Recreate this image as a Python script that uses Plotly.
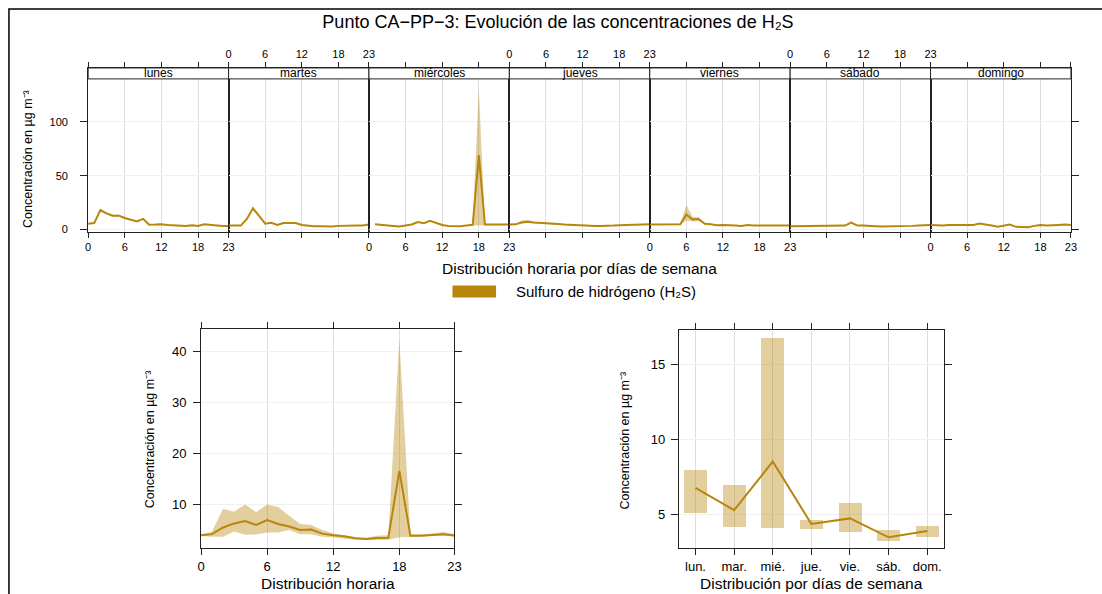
import plotly.graph_objects as go

W, H = 1102, 594
FONT = "Liberation Sans"
LINE = "#B8860B"
BAND = "rgba(184,134,11,0.40)"
FRAME = "#222222"

# ---------------- data ----------------
dias = ["lunes", "martes", "miércoles", "jueves", "viernes", "sábado", "domingo"]
horas = list(range(24))
hora_ticks = [0, 6, 12, 18, 23]

media_lun = [5.3, 6.0, 18.0, 15.0, 12.9, 12.9, 10.7, 8.8, 7.5, 9.9, 4.5, 4.6, 4.9, 4.3, 4.0, 3.4, 3.4, 4.0, 3.4, 4.9, 4.3, 3.4, 3.4, 3.4]
inf_lun = [4.9, 5.5, 16.4, 13.9, 12.0, 12.0, 10.0, 8.2, 7.0, 9.1, 4.2, 4.3, 4.5, 4.0, 3.7, 3.1, 3.1, 3.7, 3.1, 4.5, 4.0, 3.1, 3.1, 3.1]
sup_lun = [5.8, 6.6, 19.5, 16.0, 13.8, 13.8, 11.4, 9.4, 8.0, 10.7, 4.9, 4.9, 5.3, 4.6, 4.3, 3.7, 3.7, 4.3, 3.7, 5.3, 4.6, 3.7, 3.7, 3.7]

media_mar = [3.7, 4.0, 3.7, 9.8, 19.7, 12.6, 5.5, 6.3, 4.3, 6.0, 6.2, 6.0, 4.3, 3.4, 3.1, 3.1, 2.8, 2.8, 3.4, 3.7, 3.7, 3.7, 3.7, 4.6]
inf_mar = [3.4, 3.7, 3.4, 9.0, 18.4, 11.8, 5.1, 5.9, 4.0, 5.6, 5.8, 5.6, 4.0, 3.1, 2.8, 2.8, 2.5, 2.5, 3.1, 3.4, 3.4, 3.4, 3.4, 4.2]
sup_mar = [4.0, 4.3, 4.0, 10.6, 21.0, 13.4, 5.9, 6.7, 4.6, 6.4, 6.6, 6.4, 4.6, 3.7, 3.4, 3.4, 3.1, 3.1, 3.7, 4.0, 4.0, 4.0, 4.0, 5.0]

media_mie = [None, 4.8, 4.5, 4.0, 3.3, 2.9, 3.6, 4.7, 7.0, 5.8, 8.2, 6.1, 4.2, 3.2, 3.0, 3.0, 3.8, 4.4, 69.0, 4.6, 4.6, 4.6, 4.6, 4.6]
inf_mie = [None, 4.4, 4.1, 3.6, 2.9, 2.5, 3.2, 4.3, 6.5, 5.3, 7.6, 5.6, 3.8, 2.9, 2.7, 2.7, 3.4, 3.7, 3.8, 4.2, 4.2, 4.2, 4.2, 4.2]
sup_mie = [None, 5.2, 4.9, 4.4, 3.7, 3.3, 4.0, 5.1, 7.6, 6.3, 8.9, 6.6, 4.6, 3.5, 3.3, 3.3, 4.2, 5.2, 131.0, 5.0, 5.0, 5.0, 5.0, 5.0]

media_jue = [4.7, 4.8, 6.6, 7.3, 6.5, 6.3, 6.0, 5.6, 5.2, 4.6, 4.3, 3.8, 4.2, 3.8, 3.4, 3.4, 3.2, 3.7, 4.0, 4.3, 4.5, 4.8, 4.8, 4.8]
inf_jue = [4.3, 4.4, 5.6, 6.1, 5.9, 5.9, 5.6, 5.2, 4.8, 4.2, 3.9, 3.5, 3.8, 3.5, 3.1, 3.1, 2.9, 3.4, 3.7, 4.0, 4.1, 4.4, 4.4, 4.4]
sup_jue = [5.1, 5.2, 8.4, 9.2, 7.3, 6.8, 6.4, 6.0, 5.6, 5.0, 4.7, 4.1, 4.6, 4.1, 3.7, 3.7, 3.5, 4.0, 4.3, 4.6, 4.9, 5.2, 5.2, 5.2]

media_vie = [4.6, 4.6, 4.6, 4.8, 4.8, 4.9, 14.0, 9.4, 9.8, 5.4, 4.9, 4.0, 4.3, 3.7, 3.7, 3.4, 4.2, 3.7, 3.7, 3.7, 3.7, 3.7, 3.7, 3.7]
inf_vie = [4.2, 4.2, 4.2, 4.4, 4.4, 4.4, 8.5, 7.5, 8.0, 4.9, 4.5, 3.7, 4.0, 3.4, 3.4, 3.1, 3.9, 3.4, 3.4, 3.4, 3.4, 3.4, 3.4, 3.4]
sup_vie = [5.0, 5.0, 5.0, 5.2, 5.2, 5.6, 22.8, 11.8, 11.5, 6.2, 5.3, 4.3, 4.6, 4.0, 4.0, 3.7, 4.5, 4.0, 4.0, 4.0, 4.0, 4.0, 4.0, 4.0]

media_sab = [3.1, 3.1, 3.1, 3.4, 3.4, 3.4, 3.4, 3.4, 3.4, 3.7, 6.5, 3.7, 3.7, 3.1, 3.1, 2.8, 2.8, 2.8, 3.1, 3.1, 3.4, 3.7, 4.0, 4.3]
inf_sab = [2.8, 2.8, 2.8, 3.1, 3.1, 3.1, 3.1, 3.1, 3.1, 3.4, 5.8, 3.4, 3.4, 2.8, 2.8, 2.5, 2.5, 2.5, 2.8, 2.8, 3.1, 3.4, 3.7, 4.0]
sup_sab = [3.4, 3.4, 3.4, 3.7, 3.7, 3.7, 3.7, 3.7, 3.7, 4.0, 7.6, 4.0, 4.0, 3.4, 3.4, 3.1, 3.1, 3.1, 3.4, 3.4, 3.7, 4.0, 4.3, 4.6]

media_dom = [4.3, 4.0, 3.7, 4.3, 4.3, 4.6, 4.6, 4.3, 5.5, 4.9, 3.7, 2.5, 3.7, 4.6, 2.5, 2.2, 2.2, 3.4, 4.3, 3.7, 4.3, 4.3, 4.6, 4.3]
inf_dom = [4.0, 3.7, 3.4, 4.0, 4.0, 4.3, 4.3, 4.0, 5.1, 4.6, 3.4, 2.2, 3.4, 4.3, 2.2, 1.9, 1.9, 3.1, 4.0, 3.4, 4.0, 4.0, 4.3, 4.0]
sup_dom = [4.6, 4.3, 4.0, 4.6, 4.6, 4.9, 4.9, 4.6, 5.9, 5.2, 4.0, 2.8, 4.0, 4.9, 2.8, 2.5, 2.5, 3.7, 4.6, 4.0, 4.6, 4.6, 4.9, 4.6]

media_hora = [4.0, 4.2, 5.5, 6.3, 6.75, 6.0, 6.95, 6.2, 5.7, 5.0, 5.1, 4.3, 4.0, 3.8, 3.4, 3.25, 3.45, 3.5, 16.6, 3.9, 3.9, 4.0, 4.2, 3.95]
inf_hora = [3.85, 3.7, 3.7, 4.7, 4.1, 4.15, 4.5, 4.5, 5.0, 4.2, 4.2, 3.7, 3.6, 3.3, 3.1, 3.05, 3.1, 3.1, 3.6, 3.75, 3.75, 3.85, 3.95, 3.75]
sup_hora = [4.2, 4.7, 9.2, 8.6, 10.0, 8.5, 10.0, 9.5, 7.8, 6.2, 6.0, 5.0, 4.35, 4.0, 3.6, 3.5, 3.9, 4.0, 42.4, 4.2, 4.2, 4.35, 4.6, 4.2]

dias_abrev = ["lun.", "mar.", "mié.", "jue.", "vie.", "sáb.", "dom."]
media_dia = [6.79, 5.30, 8.54, 4.38, 4.75, 3.49, 3.91]
inf_dia = [5.10, 4.18, 4.14, 4.05, 3.83, 3.27, 3.51]
sup_dia = [7.99, 6.96, 16.77, 4.67, 5.77, 3.98, 4.22]

medias = [media_lun, media_mar, media_mie, media_jue, media_vie, media_sab, media_dom]
infs = [inf_lun, inf_mar, inf_mie, inf_jue, inf_vie, inf_sab, inf_dom]
sups = [sup_lun, sup_mar, sup_mie, sup_jue, sup_vie, sup_sab, sup_dom]

# ---------------- helpers ----------------
def fx(px):
    return px / W

def fy(py):
    return 1 - py / H

def band_trace(x, lo, hi, xa, ya):
    pts = [(a, l, u) for a, l, u in zip(x, lo, hi) if l is not None and u is not None]
    xs = [p[0] for p in pts] + [p[0] for p in reversed(pts)]
    ys = [p[2] for p in pts] + [p[1] for p in reversed(pts)]
    return go.Scatter(x=xs, y=ys, fill="toself", fillcolor=BAND, mode="lines",
                      line=dict(width=0), hoverinfo="skip", showlegend=False,
                      xaxis=xa, yaxis=ya)

fig = go.Figure()
layout = dict()
shapes = []
annotations = []

base_axis = dict(showline=True, linecolor=FRAME, linewidth=1, zeroline=False,
                 tickcolor=FRAME, tickfont=dict(size=11, color="#000", family=FONT))

# ---------------- top panels ----------------
P_L, P_R = 85.0, 1077.7
P_TOP, P_STRIP, P_BOT = 68.3, 79.3, 233.3
pw = (P_R - P_L) / 7
strip_frac = (P_BOT - P_STRIP) / (P_BOT - P_TOP)

for i in range(7):
    n = i + 1
    xa = "x" if n == 1 else f"x{n}"
    ya = "y" if n == 1 else f"y{n}"
    fig.add_trace(band_trace(horas, infs[i], sups[i], xa, ya))
    fig.add_trace(go.Scatter(x=horas, y=medias[i], mode="lines",
                             line=dict(color=LINE, width=2), connectgaps=False,
                             showlegend=False, xaxis=xa, yaxis=ya,
                             name="Sulfuro de hidrógeno (H₂S)"))
    xkey = "xaxis" if n == 1 else f"xaxis{n}"
    ykey = "yaxis" if n == 1 else f"yaxis{n}"
    x0 = P_L + i * pw
    x1 = x0 + pw
    layout[xkey] = dict(base_axis, domain=[fx(x0), fx(x1)], anchor=ya, range=[0, 23],
                        tickvals=hora_ticks, ticks="outside", ticklen=5, mirror="ticks",
                        side="top" if n % 2 == 0 else "bottom",
                        showgrid=True, gridcolor="#DEDEDE", gridwidth=1)
    yd = dict(base_axis, domain=[fy(P_BOT), fy(P_TOP)], anchor=xa, range=[-2.4, 150],
              tickvals=[0, 50, 100], showgrid=True, gridcolor="#F0F0F0", mirror=True)
    if n == 1:
        yd.update(ticks="outside", ticklen=7, showticklabels=True, ticklabelstandoff=10)
    elif n == 7:
        yd.update(ticks="outside", ticklen=7, side="right", showticklabels=False)
    else:
        yd.update(ticks="", showticklabels=False)
    layout[ykey] = yd
    shapes.append(dict(type="rect", xref=f"{xa} domain", yref=f"{ya} domain",
                       x0=0, x1=1, y0=strip_frac, y1=1, fillcolor="white",
                       line=dict(color=FRAME, width=1), layer="above"))
    annotations.append(dict(text=dias[i], xref=f"{xa} domain", yref=f"{ya} domain",
                            x=0.5, y=(strip_frac + 1) / 2, showarrow=False,
                            xanchor="center", yanchor="middle",
                            font=dict(size=12, family=FONT, color="#000")))

# ---------------- bottom-left: hourly ----------------
fig.add_trace(band_trace(horas, inf_hora, sup_hora, "x8", "y8"))
fig.add_trace(go.Scatter(x=horas, y=media_hora, mode="lines", line=dict(color=LINE, width=2),
                         showlegend=False, xaxis="x8", yaxis="y8"))
layout["xaxis8"] = dict(base_axis, domain=[fx(199), fx(455)], anchor="y8", range=[0, 23],
                        tickvals=hora_ticks, ticks="outside", ticklen=6, mirror="ticks",
                        showgrid=True, gridcolor="#DEDEDE", tickfont=dict(size=13, family=FONT, color="#000"))
layout["yaxis8"] = dict(base_axis, domain=[fy(550.7), fy(330.7)], anchor="x8", range=[1.5, 44.4],
                        tickvals=[10, 20, 30, 40], ticks="outside", ticklen=7, mirror="ticks",
                        ticklabelstandoff=4,
                        showgrid=True, gridcolor="#F0F0F0", tickfont=dict(size=13, family=FONT, color="#000"))

# ---------------- bottom-right: weekday ----------------
dias_pos = list(range(1, 8))
fig.add_trace(go.Bar(x=dias_pos, y=[s - l for s, l in zip(sup_dia, inf_dia)], base=inf_dia,
                     width=0.6, marker=dict(color=BAND, line=dict(width=0)),
                     showlegend=False, xaxis="x9", yaxis="y9", hoverinfo="skip"))
fig.add_trace(go.Scatter(x=dias_pos, y=media_dia, mode="lines", line=dict(color=LINE, width=2),
                         showlegend=False, xaxis="x9", yaxis="y9"))
layout["xaxis9"] = dict(base_axis, domain=[fx(681.7), fx(949.3)], anchor="y9", range=[0.57, 7.43],
                        tickvals=dias_pos, ticktext=dias_abrev, ticks="outside", ticklen=6, mirror="ticks",
                        showgrid=True, gridcolor="#DEDEDE", tickfont=dict(size=13, family=FONT, color="#000"))
layout["yaxis9"] = dict(base_axis, domain=[fy(551), fy(331.7)], anchor="x9", range=[2.76, 17.32],
                        tickvals=[5, 10, 15], ticks="outside", ticklen=7, mirror="ticks",
                        ticklabelstandoff=3,
                        showgrid=True, gridcolor="#F0F0F0", tickfont=dict(size=13, family=FONT, color="#000"))

# ---------------- texts ----------------
ylab = "Concentración en µg m⁻³"
annotations += [
    dict(text="Distribución horaria por días de semana", xref="paper", yref="paper",
         x=fx(581.5), y=fy(270), showarrow=False, xanchor="center", yanchor="middle",
         font=dict(size=15.5, family=FONT, color="#000")),
    dict(text=ylab, xref="paper", yref="paper", x=fx(24), y=fy(160), textangle=-90,
         showarrow=False, xanchor="center", yanchor="middle",
         font=dict(size=12.5, family=FONT, color="#000")),
    dict(text="Sulfuro de hidrógeno (H₂S)", xref="paper", yref="paper",
         x=fx(515), y=fy(293), showarrow=False, xanchor="left", yanchor="middle",
         font=dict(size=15, family=FONT, color="#000")),
    dict(text="Distribución horaria", xref="paper", yref="paper", x=fx(327), y=fy(586),
         showarrow=False, xanchor="center", yanchor="middle",
         font=dict(size=15.5, family=FONT, color="#000")),
    dict(text=ylab, xref="paper", yref="paper", x=fx(147), y=fy(442), textangle=-90,
         showarrow=False, xanchor="center", yanchor="middle",
         font=dict(size=12.5, family=FONT, color="#000")),
    dict(text="Distribución por días de semana", xref="paper", yref="paper", x=fx(815.5), y=fy(586),
         showarrow=False, xanchor="center", yanchor="middle",
         font=dict(size=15.5, family=FONT, color="#000")),
    dict(text=ylab, xref="paper", yref="paper", x=fx(627), y=fy(443), textangle=-90,
         showarrow=False, xanchor="center", yanchor="middle",
         font=dict(size=12.5, family=FONT, color="#000")),
]

# legend key and outer frame
shapes.append(dict(type="rect", xref="paper", yref="paper", x0=fx(453), x1=fx(497),
                   y0=fy(299), y1=fy(287), fillcolor=LINE, line=dict(width=0)))
shapes.append(dict(type="rect", xref="paper", yref="paper", x0=fx(5), x1=fx(W + 10),
                   y0=fy(H + 10), y1=fy(9), line=dict(color="#000", width=1.5),
                   fillcolor="rgba(0,0,0,0)"))

layout.update(
    width=W, height=H, margin=dict(l=0, r=0, t=0, b=0, pad=0),
    paper_bgcolor="white", plot_bgcolor="white",
    font=dict(family=FONT, color="#000"),
    showlegend=False,
    title=dict(text="Punto CA−PP−3: Evolución de las concentraciones de H₂S",
               x=fx(558), y=fy(22), xanchor="center", yanchor="middle",
               font=dict(size=18, family=FONT, color="#000")),
    shapes=shapes, annotations=annotations, bargap=0,
)
fig.update_layout(**layout)
fig.write_html("out.html")
